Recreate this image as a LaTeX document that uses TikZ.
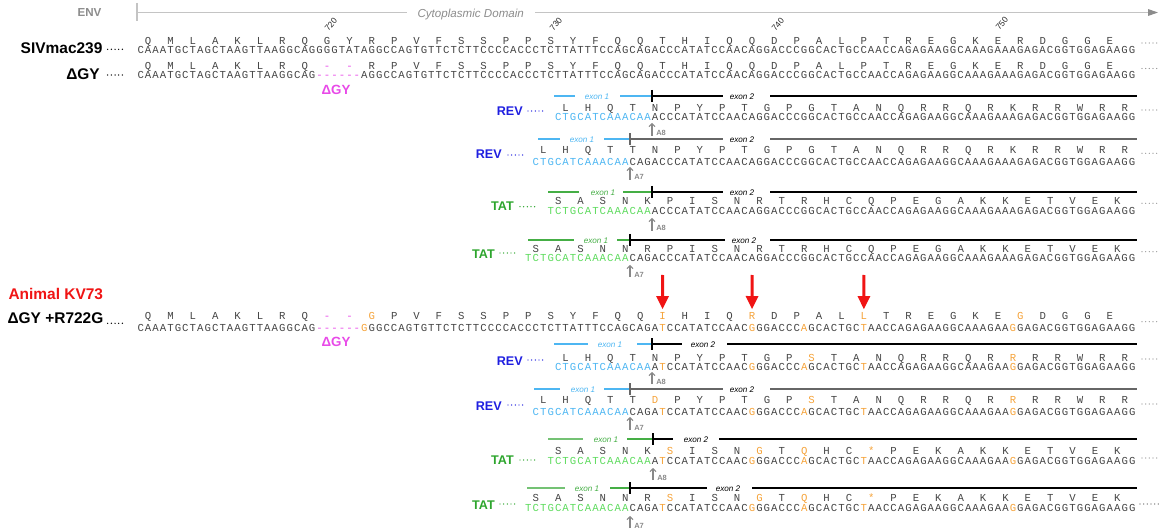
\documentclass[tikz,border=0pt]{standalone}
\usepackage{fontspec}
\setmainfont{Liberation Sans}
\newfontfamily\seqfont{Liberation Mono}
\usetikzlibrary{arrows.meta}

\definecolor{seqgray}{HTML}{454545}
\definecolor{revblue}{HTML}{1F1FE0}
\definecolor{exblue}{HTML}{4DB6F2}
\definecolor{tatgreen}{HTML}{2DA52D}
\definecolor{exgreen}{HTML}{45AE45}
\definecolor{ntgreen}{HTML}{5EDB5E}
\definecolor{delmag}{HTML}{E84AE8}
\definecolor{subst}{HTML}{F5A33A}
\definecolor{kvred}{HTML}{F01414}
\definecolor{envgray}{HTML}{8C8C8C}
\definecolor{envrule}{HTML}{C4C4C4}
\definecolor{markgray}{HTML}{888888}
\definecolor{ex2gray}{HTML}{666666}

% one fixed-width cell per nucleotide: lower case = substitution (orange), '-' = deletion (magenta)
\newcommand\putnt[1]{\makebox[5.591pt][c]{\if-#1\textcolor{delmag}{-}\else\ifnum`#1=\uccode`#1 #1\else\textcolor{subst}{\uppercase{#1}}\fi\fi}}
\def\seqloop#1{\ifx\relax#1\else\putnt{#1}\expandafter\seqloop\fi}
\newcommand\seqtext[1]{\seqloop#1\relax}
\newcommand\og[1]{\textcolor{subst}{#1}}
\newcommand\mg[1]{\textcolor{delmag}{#1}}

% nucleotide row: name, start index, baseline, sequence
\newcommand\ntrow[4]{\node[nt] (#1) at ({137+#2*7.455},#3) {\seqtext{#4}};}
% coloured exon-1 part of a spliced row: name, start index, baseline, sequence, colour
\newcommand\ntpre[5]{\node[nt,text=#5] (#1) at ({137+#2*7.455},#3) {\seqtext{#4}};}
% amino-acid row: name prefix, first codon index, baseline, residues
\newcommand\aarow[4]{\foreach \a [count=\k from 0] in {#4} {\node[aa] (#1-\k) at ({137+(#2+3*\k+1.5)*7.455},#3) {\a};}}
% row of leader dots: colour, x from, x to, y
\newcommand\rowdots[4]{\draw[dotrow,#1] (#2,#4) -- (#3,#4);}
\newcommand\taildots[1]{\draw[dotrow,draw=markgray,line width=0.9pt] (1142,#1) -- (1158,#1);}
% exon 1 bar: left colour, right colour, y, x1, x2, label x, x3, splice x, label colour
\newcommand\exonone[9]{%
  \draw[exline,#1] (#4,#3) -- (#5,#3);
  \node[exlab,text=#9] at (#6,#3+1) {exon 1};
  \draw[exline,#2] (#7,#3) -- (#8,#3);}
% exon 2 bar: colour, y, splice x, x2, label x, x3
\newcommand\exontwo[6]{%
  \draw[exline,#1] (#3,#2) -- (#4,#2);
  \node[exlab,text=black] at (#5,#2+1) {exon 2};
  \draw[exline,#1] (#6,#2) -- (1137,#2);
  \draw[exline,#1] (#3,#2-6) -- (#3,#2+6);}
% splice acceptor mark: name, x, top, bottom, label
\newcommand\amark[5]{%
  \coordinate (#1) at (#2,#4);
  \coordinate (#1-tip) at (#2,#3);
  \draw[amk] (#1) -- (#1-tip);
  \node[amklab] (#1-lab) at (#2+4,#4) {#5};}

\begin{document}
\begin{tikzpicture}[x=0.75pt,y=-0.75pt,
  nt/.style={anchor=base west,inner sep=0pt,outer sep=0pt,font=\seqfont\fontsize{8}{8}\selectfont,text=seqgray},
  aa/.style={anchor=base,inner sep=0pt,outer sep=0pt,font=\seqfont\fontsize{8}{8}\selectfont,text=seqgray},
  biglab/.style={inner sep=0pt,font=\bfseries\fontsize{11.6}{12}\selectfont},
  seqlab/.style={inner sep=0pt,anchor=base east,font=\bfseries\fontsize{9.45}{10}\selectfont},
  dellab/.style={inner sep=0pt,anchor=base,text=delmag,font=\bfseries\fontsize{10}{10}\selectfont},
  dotrow/.style={line width=1.1pt,line cap=round,dash pattern=on 0pt off 2.75pt},
  exline/.style={line width=0.95pt},
  exlab/.style={inner sep=0pt,font=\itshape\fontsize{6.1}{7}\selectfont},
  amk/.style={draw=markgray,line width=0.8pt,-{Straight Barb[length=2.2pt,width=4.5pt]}},
  amklab/.style={inner sep=0pt,anchor=base west,text=markgray,font=\bfseries\fontsize{5.6}{6}\selectfont},
  redarr/.style={draw=kvred,line width=2.3pt,-{Triangle[length=10pt,width=9pt]},shorten >=2.2pt},
  envln/.style={draw=envrule,line width=0.8pt},
  posnum/.style={inner sep=0pt,rotate=50,text=black!85,font=\fontsize{6.3}{7}\selectfont}]
\useasboundingbox (0,0) rectangle (1161,531);

% ---- Env header ----
\node[inner sep=0pt,anchor=base east,text=envgray,font=\bfseries\fontsize{8.7}{9}\selectfont] (env) at (101.7,16.7) {ENV};
\draw[envln] (137,3) -- (137,21);
\draw[envln] (137,12.5) -- (406.7,12.5);
\node[inner sep=0pt,anchor=base west,text=envgray,font=\itshape\fontsize{8.7}{9}\selectfont] (cyto) at (417.3,17.3) {Cytoplasmic Domain};
\draw[envln,-{Triangle[length=7.5pt,width=5pt,color=envgray]}] (535,12.5) -- (1158,12.5);

\node[posnum] (p720) at (331,24.5) {720};
\node[posnum] (p730) at (556,24) {730};
\node[posnum] (p740) at (778,24.5) {740};
\node[posnum] (p750) at (1002,23.5) {750};

% ---- SIVmac239 ----
\node[biglab,anchor=base east] (siv) at (102.7,53.3) {SIVmac239};
\rowdots{black}{107.7}{122.7}{49.3}
\aarow{wtaa}{0}{45}{Q,M,L,A,K,L,R,Q,G,Y,R,P,V,F,S,S,P,P,S,Y,F,Q,Q,T,H,I,Q,Q,D,P,A,L,P,T,R,E,G,K,E,R,D,G,G,E}
\ntrow{wtnt}{0}{53.3}{CAAATGCTAGCTAAGTTAAGGCAGGGGTATAGGCCAGTGTTCTCTTCCCCACCCTCTTATTTCCAGCAGACCCATATCCAACAGGACCCGGCACTGCCAACCAGAGAAGGCAAAGAAAGAGACGGTGGAGAAGG}
\taildots{43}

% ---- Delta GY ----
\node[biglab,anchor=base east] (dgy) at (100,80) {ΔGY};
\rowdots{black}{107.7}{122.7}{75}
\aarow{dgyaa}{0}{69.5}{Q,M,L,A,K,L,R,Q,\mg{-},\mg{-},R,P,V,F,S,S,P,P,S,Y,F,Q,Q,T,H,I,Q,Q,D,P,A,L,P,T,R,E,G,K,E,R,D,G,G,E}
\ntrow{dgynt}{0}{79}{CAAATGCTAGCTAAGTTAAGGCAG------AGGCCAGTGTTCTCTTCCCCACCCTCTTATTTCCAGCAGACCCATATCCAACAGGACCCGGCACTGCCAACCAGAGAAGGCAAAGAAAGAGACGGTGGAGAAGG}
\taildots{68.5}
\node[dellab] (dgydel) at (336,95) {ΔGY};

% ---- REV, acceptor A8 ----
\exonone{exblue}{exblue}{96}{554}{575}{597}{620}{652}{exblue}
\exontwo{black}{96}{652}{723}{742}{770}
\node[seqlab,text=revblue] (rev1) at (523,115.7) {REV};
\rowdots{revblue}{528}{543}{111}
\aarow{rev1aa}{56}{111.7}{L,H,Q,T,N,P,Y,P,T,G,P,G,T,A,N,Q,R,R,Q,R,K,R,R,W,R,R}
\ntpre{rev1x}{56}{121}{CTGCATCAAACAA}{exblue}
\ntrow{rev1nt}{69}{121}{ACCCATATCCAACAGGACCCGGCACTGCCAACCAGAGAAGGCAAAGAAAGAGACGGTGGAGAAGG}
\taildots{110}
\amark{rev1a}{652}{123}{136}{A8}

% ---- REV, acceptor A7 ----
\exonone{exblue}{exblue}{139}{538}{560}{582}{604}{630}{exblue}
\exontwo{ex2gray}{139}{630}{723}{742}{770}
\node[seqlab,text=revblue] (rev2) at (502,159) {REV};
\rowdots{revblue}{508}{523}{155}
\aarow{rev2aa}{53}{154}{L,H,Q,T,T,N,P,Y,P,T,G,P,G,T,A,N,Q,R,R,Q,R,K,R,R,W,R,R}
\ntpre{rev2x}{53}{165.5}{CTGCATCAAACAA}{exblue}
\ntrow{rev2nt}{66}{165.5}{CAGACCCATATCCAACAGGACCCGGCACTGCCAACCAGAGAAGGCAAAGAAAGAGACGGTGGAGAAGG}
\taildots{153.3}
\amark{rev2a}{630}{167}{180}{A7}

% ---- TAT, acceptor A8 ----
\exonone{exgreen}{exgreen}{192}{548}{579}{603}{623}{652}{exgreen}
\exontwo{black}{192}{652}{723}{742}{770}
\node[seqlab,text=tatgreen] (tat1) at (514,211) {TAT};
\rowdots{tatgreen}{520}{535}{206.7}
\aarow{tat1aa}{55}{205}{S,A,S,N,K,P,I,S,N,R,T,R,H,C,Q,P,E,G,A,K,K,E,T,V,E,K}
\ntpre{tat1x}{55}{214.3}{TCTGCATCAAACAA}{ntgreen}
\ntrow{tat1nt}{69}{214.3}{ACCCATATCCAACAGGACCCGGCACTGCCAACCAGAGAAGGCAAAGAAAGAGACGGTGGAGAAGG}
\taildots{203.3}
\amark{tat1a}{652}{218}{231}{A8}

% ---- TAT, acceptor A7 ----
\exonone{exgreen}{exgreen}{240}{528}{574}{596}{617}{630}{exgreen}
\exontwo{black}{240}{630}{725}{744}{770}
\node[seqlab,text=tatgreen] (tat2) at (495,258) {TAT};
\rowdots{tatgreen}{500}{515}{253}
\aarow{tat2aa}{52}{252.7}{S,A,S,N,N,R,P,I,S,N,R,T,R,H,C,Q,P,E,G,A,K,K,E,T,V,E,K}
\ntpre{tat2x}{52}{262}{TCTGCATCAAACAA}{ntgreen}
\ntrow{tat2nt}{66}{262}{CAGACCCATATCCAACAGGACCCGGCACTGCCAACCAGAGAAGGCAAAGAAAGAGACGGTGGAGAAGG}
\taildots{251.7}
\amark{tat2a}{630}{265}{277}{A7}

% ---- Animal KV73 ----
\node[biglab,anchor=base west,text=kvred] (kv) at (8.3,300) {Animal KV73};
\node[biglab,anchor=base west] (mut) at (7.3,323.3) {ΔGY +R722G};
\rowdots{black}{107.7}{122.7}{323.3}
\aarow{mutaa}{0}{319.3}{Q,M,L,A,K,L,R,Q,\mg{-},\mg{-},\og{G},P,V,F,S,S,P,P,S,Y,F,Q,Q,\og{I},H,I,Q,\og{R},D,P,A,L,\og{L},T,R,E,G,K,E,\og{G},D,G,G,E}
\ntrow{mutnt}{0}{331.7}{CAAATGCTAGCTAAGTTAAGGCAG------gGGCCAGTGTTCTCTTCCCCACCCTCTTATTTCCAGCAGAtCCATATCCAACgGGACCCaGCACTGCtAACCAGAGAAGGCAAAGAAgGAGACGGTGGAGAAGG}
\taildots{321.7}
\node[dellab] (mutdel) at (336,346) {ΔGY};

\coordinate (r1) at (662.6,275);
\coordinate (r2) at (752.1,275);
\coordinate (r3) at (863.9,275);
\draw[redarr] (r1) -- (mutaa-23.north);
\draw[redarr] (r2) -- (mutaa-27.north);
\draw[redarr] (r3) -- (mutaa-32.north);

% ---- KV73 REV, acceptor A8 ----
\exonone{exblue}{exblue}{344}{554}{588}{610}{637}{652}{exblue}
\exontwo{black}{344}{652}{682}{703}{727}
\node[seqlab,text=revblue] (mrev1) at (523,365) {REV};
\rowdots{revblue}{528}{543}{360}
\aarow{mrev1aa}{56}{361}{L,H,Q,T,N,P,Y,P,T,G,P,\og{S},T,A,N,Q,R,R,Q,R,\og{R},R,R,W,R,R}
\ntpre{mrev1x}{56}{370.3}{CTGCATCAAACAA}{exblue}
\ntrow{mrev1nt}{69}{370.3}{AtCCATATCCAACgGGACCCaGCACTGCtAACCAGAGAAGGCAAAGAAgGAGACGGTGGAGAAGG}
\taildots{359}
\amark{mrev1a}{652}{372}{384}{A8}

% ---- KV73 REV, acceptor A7 ----
\exonone{exblue}{exblue}{389}{534}{560}{583}{604}{630}{exblue}
\exontwo{ex2gray}{389}{630}{723}{742}{770}
\node[seqlab,text=revblue] (mrev2) at (502,410) {REV};
\rowdots{revblue}{508}{523}{405}
\aarow{mrev2aa}{53}{403.3}{L,H,Q,T,T,\og{D},P,Y,P,T,G,P,\og{S},T,A,N,Q,R,R,Q,R,\og{R},R,R,W,R,R}
\ntpre{mrev2x}{53}{415}{CTGCATCAAACAA}{exblue}
\ntrow{mrev2nt}{66}{415}{CAGAtCCATATCCAACgGGACCCaGCACTGCtAACCAGAGAAGGCAAAGAAgGAGACGGTGGAGAAGG}
\taildots{404}
\amark{mrev2a}{630}{417}{430}{A7}

% ---- KV73 TAT, acceptor A8 ----
\exonone{exgreen!75!white}{exgreen}{439}{548}{583}{606}{627}{653}{exgreen}
\exontwo{black}{439}{653}{673}{696}{719}
\node[seqlab,text=tatgreen] (mtat1) at (514,464) {TAT};
\rowdots{tatgreen}{520}{535}{460}
\aarow{mtat1aa}{55}{454.3}{S,A,S,N,K,\og{S},I,S,N,\og{G},T,\og{Q},H,C,\og{*},P,E,K,A,K,K,E,T,V,E,K}
\ntpre{mtat1x}{55}{464}{TCTGCATCAAACAA}{ntgreen}
\ntrow{mtat1nt}{69}{464}{AtCCATATCCAACgGGACCCaGCACTGCtAACCAGAGAAGGCAAAGAAgGAGACGGTGGAGAAGG}
\taildots{458}
\amark{mtat1a}{653}{468}{480}{A8}

% ---- KV73 TAT, acceptor A7 ----
\exonone{exgreen!75!white}{exgreen}{488}{527}{565}{587}{610}{630}{exgreen}
\exontwo{black}{488}{630}{707}{728}{752}
\node[seqlab,text=tatgreen] (mtat2) at (495,509) {TAT};
\rowdots{tatgreen}{500}{515}{504}
\aarow{mtat2aa}{52}{501.7}{S,A,S,N,N,R,\og{S},I,S,N,\og{G},T,\og{Q},H,C,\og{*},P,E,K,A,K,K,E,T,V,E,K}
\ntpre{mtat2x}{52}{511.7}{TCTGCATCAAACAA}{ntgreen}
\ntrow{mtat2nt}{66}{511.7}{CAGAtCCATATCCAACgGGACCCaGCACTGCtAACCAGAGAAGGCAAAGAAgGAGACGGTGGAGAAGG}
\draw[dotrow,draw=black!70,line width=0.9pt] (1140,504) -- (1160,504);
\amark{mtat2a}{630}{516}{528}{A7}
\end{tikzpicture}
\end{document}
